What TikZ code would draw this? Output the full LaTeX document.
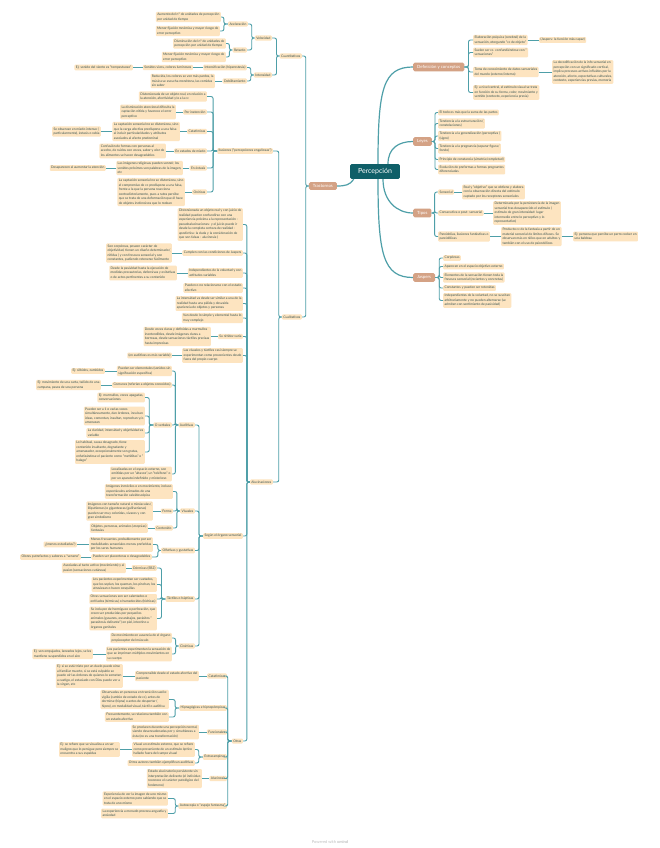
\documentclass[tikz,border=0pt]{standalone}
\usepackage{fontspec}
\setmainfont{Lato}
\definecolor{leaf}{HTML}{FDE4C0}
\definecolor{branch}{HTML}{D4A285}
\definecolor{rootc}{HTML}{0F5F68}
\definecolor{linec}{HTML}{4E9FA8}
\definecolor{txt}{HTML}{34504F}
\tikzset{
 lf/.style={fill=leaf, rounded corners=1pt, inner xsep=1.4pt, inner ysep=1.3pt, font=\fontsize{3.3}{4.5}\selectfont, text=txt, align=left},
 L/.style={lf, anchor=east},
 R/.style={lf, anchor=west},
 br/.style={fill=branch, rounded corners=1.5pt, inner xsep=4pt, inner ysep=2.4pt, font=\fontsize{4.3}{5}\selectfont, text=white},
 rt/.style={fill=rootc, rounded corners=1.5pt, inner xsep=8pt, inner ysep=4.3pt, font=\fontsize{7}{8}\selectfont, text=white},
 conn/.style={draw=linec, line width=0.9pt, rounded corners=2pt},
 mainc/.style={draw=linec, line width=1.2pt},
}
\newcommand\LC[3]{\draw[conn] (#1.west) -- ++(-#3,0) |- (#2.east);}
\newcommand\RC[3]{\draw[conn] (#1.east) -- ++(#3,0) |- (#2.west);}
\newcommand\SL[2]{\draw[conn] (#1.west) -- (#2.east);}
\newcommand\SR[2]{\draw[conn] (#1.east) -- (#2.west);}
\begin{document}
\begin{tikzpicture}[x=1pt,y=-1pt]
\useasboundingbox (0,0) rectangle (659,848);
\fill[white] (0,0) rectangle (659,848);

% ---------- root and main branches
\node[rt] (root) at (375,171.5) {Percepción};
\node[br, anchor=west] (def) at (413,67) {Definición y conceptos};
\node[br, anchor=west] (leyes) at (413,141.5) {Leyes};
\node[br, anchor=west] (tipos) at (413,213) {Tipos};
\node[br, anchor=west] (jasp) at (413,277.5) {Jaspers};
\node[br, anchor=east] (tras) at (337,186) {Trastornos};

\draw[mainc] ([xshift=3]root.north) .. controls +(0,-75) and +(-30,0) .. (def.west);
\draw[mainc] ([xshift=13]root.north) .. controls +(0,-16) and +(-14,0) .. (leyes.west);
\draw[mainc] ([xshift=8]root.south) .. controls +(0,22) and +(-16,0) .. (tipos.west);
\draw[mainc] ([xshift=3]root.south) .. controls +(0,75) and +(-30,0) .. (jasp.west);
\draw[mainc] ([xshift=4]root.south west) .. controls +(-4,6) and +(8,0) .. (tras.east);

% ---------- Definición
\node[R] (elab) at (473,40) {Elaboración psíquica (cerebral) de la\\sensación, otorgando "cc de objeto"};
\node[R] (jasp1) at (539,40) {(Jaspers: la función más capaz)};
\node[R] (suelen) at (473,52.5) {Suelen ser cc. confundiéndose con "\\sensaciones"};
\node[R] (toma) at (473,72) {Toma de conocimiento de datos sensoriales\\del mundo (externo/interno)};
\node[R] (decod) at (552,72) {La decodificación de la info sensorial en\\percepción con un significado cortical,\\implica procesos activos influidos por la\\atención, afecto, expectativas culturales,\\contexto, experiencias previas, memoria};
\node[R] (ejniv) at (473,92.5) {Ej: a nivel central, el estímulo visual se trata\\en función de su forma, color, movimiento y\\sentido (contexto, experiencia previa)};
\RC{def}{elab}{4} \RC{def}{suelen}{4} \RC{def}{toma}{4} \RC{def}{ejniv}{4}
\SR{elab}{jasp1} \SR{toma}{decod}

% ---------- Leyes
\node[R] (l1) at (438,112.5) {El todo es más que la suma de las partes};
\node[R] (l2) at (438,123.5) {Tendencia a la estructuración (\\constelaciones)};
\node[R] (l3) at (438,136) {Tendencia a la generalización (perceptiva )\\(signo)};
\node[R] (l4) at (438,148.5) {Tendencia a la pregnancia (separar figura/\\fondo)};
\node[R] (l5) at (438,159.5) {Principio de constancia (simetría/completud)};
\node[R] (l6) at (438,169.5) {Evolución de preformas a formas pregnantes\\diferenciadas};
\foreach \c in {l1,l2,l3,l4,l5,l6} {\RC{leyes}{\c}{3}}

% ---------- Tipos
\node[R] (sens) at (438,192) {Sensorial};
\node[R] (real) at (462,192) {Real y "objetivo" que se obtiene y elabora\\con la observación directa del estímulo\\captado por los receptores sensoriales};
\node[R] (consec) at (438,213) {Consecutiva o post- sensorial};
\node[R] (determ) at (493,213) {Determinada por la persistencia de la imagen\\sensorial tras desaparecido el estímulo (\\estímulo de gran intensidad: lugar\\intermedio entre lo perceptivo y lo\\representativo)};
\node[R] (pareid) at (438,236.5) {Pareidolias, ilusiones fantásticas o\\pareidólicas};
\node[R] (product) at (501,236.5) {Producto cc de la fantasía a partir de un\\material sensorial de límites difusos. Se\\observan más en niños que en adultos y\\también con el uso de psicodélicos};
\node[R] (ejperro) at (573,236.5) {Ej: persona que percibe un perro cocker en\\una baldosa};
\RC{tipos}{sens}{3} \RC{tipos}{consec}{3} \RC{tipos}{pareid}{3}
\SR{sens}{real} \SR{consec}{determ} \SR{pareid}{product} \SR{product}{ejperro}

% ---------- Jaspers
\node[R] (j1) at (443,258) {Corpóreas};
\node[R] (j2) at (443,266.5) {Aparecen en el espacio objetivo externo};
\node[R] (j3) at (443,277.5) {Elementos de la sensación tienen toda la\\frescura sensorial (recientes y concretas)};
\node[R] (j4) at (443,288) {Constantes y pueden ser retenidas};
\node[R] (j5) at (443,300.5) {Independientes de la voluntad, no se suscitan\\arbitrariamente y no pueden alternarse (se\\admiten con sentimiento de pasividad)};
\foreach \c in {j1,j2,j3,j4,j5} {\RC{jasp}{\c}{4}}

% ---------- Trastornos
\node[L] (cuant) at (302,56) {Cuantitativos};
\node[L] (cualit) at (302,317) {Cualitativos};
\LC{tras}{cuant}{3} \LC{tras}{cualit}{3}

% Cuantitativos
\node[L] (vel) at (272,38) {Velocidad};
\node[L] (inten) at (272,75) {Intensidad};
\node[L] (acel) at (248,24) {Aceleración};
\node[L] (ret) at (247,50) {Retardo};
\node[L] (aum) at (221,17) {Aumento del n° de unidades de percepción\\por unidad de tiempo};
\node[L] (men1) at (220,31) {Menor fijación mnémica y mayor riesgo de\\error perceptivo};
\node[L] (dism) at (226,43.5) {Disminución del n° de unidades de\\percepción por unidad de tiempo};
\node[L] (men2) at (226,57) {Menor fijación mnémica y mayor riesgo de\\error perceptivo};
\node[L] (hiper) at (247,67.5) {Intensificación (hiperestesia)};
\node[L] (sonv) at (193,67.5) {Sonidos vivos, colores luminosos};
\node[L] (ejvi) at (133,67.5) {Ej: sonido del viento es "tempestuoso"};
\node[L] (debil) at (247,81) {Debilitamiento};
\node[L] (reduc) at (215,81) {Reducida, los colores se ven más pardos, la\\música se escucha monótona, las comidas\\sin sabor};
\LC{cuant}{vel}{3} \LC{cuant}{inten}{3}
\LC{vel}{acel}{3} \LC{vel}{ret}{3}
\LC{acel}{aum}{4} \LC{acel}{men1}{4}
\LC{ret}{dism}{3} \LC{ret}{men2}{3}
\LC{inten}{hiper}{3} \LC{inten}{debil}{3}
\SL{hiper}{sonv} \SL{sonv}{ejvi} \SL{debil}{reduc}

% Ilusiones
\node[L] (ilus) at (273,151) {Ilusiones ("percepciones engañosas")};
\node[L] (dist1) at (207,96.5) {Distorsionada de un objeto real, en relación a\\la atención, afectividad y/o a la cc};
\node[L] (inat) at (207,112) {Por inatención};
\node[L] (ladism) at (176,112) {La disminución atencional dificulta la\\captación nítida y favorece el error\\perceptivo};
\node[L] (catat) at (207,131.5) {Catatímicas};
\node[L] (lacapt) at (180,131.5) {La captación sensorial no se distorsiona, sino\\que la carga afectiva predispone a una falsa\\al incluir particularidades y atributos\\asociados al afecto predominal};
\node[L] (seobs) at (101,131.5) {Se observan en miedo intenso (\\particularmente), éxtasis o rabia};
\node[L] (miedo) at (207,151) {En estados de miedo};
\node[L] (confu) at (166,151) {Confusión de formas con personas al\\acecho, de ruidos con voces, sabor y olor de\\los alimentos se hacen desagradables};
\node[L] (extas) at (207,168) {En éxtasis};
\node[L] (imgrel) at (183,168) {Las imágenes religiosas pueden sonreír, los\\sonidos próximos son palabras de la imagen,\\etc};
\node[L] (desap) at (106,168) {Desaparecen al aumentar la atención};
\node[L] (onir) at (207,192) {Oníricas};
\node[L] (lacapt2) at (185,192) {La captación sensorial no se distorsiona, sino\\el compromiso de cc predispone a una falsa,\\frente a la que la persona reacciona\\contradictoriamente, pues a ratos percibe\\que se trata de una deformación que él hace\\de objetos inofensivos que lo rodean};
\foreach \c in {dist1,inat,catat,miedo,extas,onir} {\LC{ilus}{\c}{4}}
\SL{inat}{ladism} \SL{catat}{lacapt} \SL{lacapt}{seobs} \SL{miedo}{confu}
\SL{extas}{imgrel} \SL{imgrel}{desap} \SL{onir}{lacapt2}

% Alucinaciones
\node[L] (aluc) at (273,482) {Alucinaciones};
\LC{cualit}{ilus}{3} \LC{cualit}{aluc}{3}
\node[L] (distal) at (243,224.5) {Distorsionada un objeto real y con juicio de\\realidad pueden confundirse con una\\experiencia próxima a la representación -\\pseudoalucinaciones- y el juicio puede ir\\desde la completa certeza de realidad -\\apodíctica- la duda y la consideración de\\que son falsas - alucinosis-)};
\node[L] (cumplen) at (243,253) {Cumplen con las condiciones de Jaspers};
\node[L] (soncorp) at (172,253) {Son corpóreas, poseen carácter de\\objetividad, tienen un diseño determinado (\\nítidas ) y con frescura sensorial y son\\constantes, pudiendo retenerse fácilmente};
\node[L] (indep) at (243,273) {Independientes de la voluntad y con\\actitudes variables};
\node[L] (desdepas) at (177,273) {Desde la pasividad hasta la ejecución de\\medidas precautorias, defensivas y evitativas\\o de actos pertinentes a su contenido};
\node[L] (pueden) at (243,288) {Pueden o no relacionarse con el estado\\afectivo};
\node[L] (laint) at (243,303.5) {La intensidad va desde ser similar a una de la\\realidad hasta una pálida y desvaída\\apariencia de objetos y personas};
\node[L] (vandesde) at (243,318) {Van desde lo simple y elemental hasta lo\\muy complejo};
\node[L] (nitidez) at (243,336.5) {Su nitidez varía};
\node[L] (desdevoc) at (211,336.5) {Desde voces claras y definidas a murmullos\\inentendibles, desde imágenes claras a\\borrosas, desde sensaciones táctiles precisas\\hasta imprecisas};
\node[L] (lasvis) at (243,355.5) {Las visuales y táctiles casi siempre se\\experimentan como provenientes desde\\fuera del propio cuerpo};
\node[L] (enaud) at (172,355.5) {(en auditivas es más variable)};
\node[L] (segun) at (243,536) {Según el órgano sensorial};
\node[L] (otras) at (243,741) {Otras};
\foreach \c in {distal,cumplen,indep,pueden,laint,vandesde,nitidez,lasvis,segun,otras} {\LC{aluc}{\c}{3}}
\SL{cumplen}{soncorp} \SL{indep}{desdepas} \SL{nitidez}{desdevoc} \SL{lasvis}{enaud}

% Auditivas
\node[L] (audit) at (195,425) {Auditivas};
\node[L] (elem) at (172,371) {Pueden ser elementales (sonidos sin\\significación específica)};
\node[L] (ejsilb) at (105,371) {Ej: silbidos, zumbidos};
\node[L] (comun) at (172,385) {Comunes (referían a objetos conocidos)};
\node[L] (ejmov) at (101,385) {Ej: movimiento de una carta, tañido de una\\campana, pasos de una persona};
\node[L] (overb) at (172,425) {O verbales};
\node[L] (murm) at (145,397.5) {Ej: murmullos, voces apagadas,\\conversaciones};
\node[L] (puedser) at (145,416) {Pueden ser a 1 o varias voces\\simultáneamente, dan órdenes, inculcan\\ideas, comentan, insultan, reprochan y/o\\amenazan};
\node[L] (clarid) at (145,433) {La claridad, intensidad y objetividad es\\variable};
\node[L] (habit) at (145,452) {Lo habitual, causa desagrado, tiene\\contenido insultante, degradante y\\amenazador, excepcionalmente son gratas,\\enfatizándose el paciente como "metiditas" o "\\halago"};
\node[L] (localiz) at (172,474) {Localizadas en el espacio externo, son\\emitidas por un "altavoz", un "teléfono" o\\por un aparato indefinido y misterioso};
\foreach \c in {elem,comun,overb,localiz} {\LC{audit}{\c}{3}}
\foreach \c in {murm,puedser,clarid,habit} {\LC{overb}{\c}{4}}
\SL{elem}{ejsilb} \SL{comun}{ejmov}

% Visuales
\node[L] (visu) at (195,511) {Visuales};
\node[L] (inmov) at (173,491.5) {Imágenes inmóviles o en movimiento, incluso\\espectáculos animados de una\\transformación caleidoscópica};
\node[L] (forma) at (173,511) {Forma};
\node[L] (taman) at (153,511) {Imágenes con tamaño natural o minúsculas (\\liliputienses) o gigantescas (gulliverianas)\\pueden ser muy coloridas, vivaces y con\\gran simbolismo};
\node[L] (conten) at (173,528) {Contenido};
\node[L] (objet) at (148,528) {Objetos, personas, animales (zoopsias)\\fantasías};
\foreach \c in {inmov,forma,conten} {\LC{visu}{\c}{3}}
\SL{forma}{taman} \SL{conten}{objet}

% Olfativas
\node[L] (olfat) at (195,550.5) {Olfativas y gustativas};
\node[L] (menos) at (153,544.5) {Menos frecuentes, probablemente por ser\\modalidades sensoriales menos preferidas\\por los seres humanos};
\node[L] (menoest) at (77,544.5) {¿(menos estudiadas?)};
\node[L] (placen) at (152,557) {Pueden ser placenteras o desagradables};
\node[L] (olores) at (81,557) {Olores putrefactos y sabores a "veneno"};
\LC{olfat}{menos}{3} \LC{olfat}{placen}{3}
\SL{menos}{menoest} \SL{placen}{olores}

% Táctiles
\node[L] (tact) at (195,599) {Táctiles o hápticas};
\node[L] (derm) at (157,568) {Dérmicas (EBZ)};
\node[L] (asoc) at (126,568) {Asociadas al tacto activo (movimiento) y al\\pasivo (sensaciones cutáneas)};
\node[L] (cuet) at (157,584.5) {Los pacientes experimentan ser cuetados,\\que los soplan, los queman, los pinchan, los\\atraviesan o hacen cosquillas};
\node[L] (otrsens) at (157,599) {Otras sensaciones son ser calentados o\\enfriados (térmicas) o humedecidos (hídricas)};
\node[L] (hormig) at (157,618.5) {Se incluyen de hormigueo o perforación, que\\creen ser producidas por pequeños\\animales (gusanos, escarabajos, parásitos "\\parasitosis delirante") en piel, intestino u\\órganos genitales};
\foreach \c in {derm,cuet,otrsens,hormig} {\LC{tact}{\c}{4}}
\SL{derm}{asoc}

% Cinéticas
\node[L] (cinet) at (195,646) {Cinéticas};
\node[L] (demov) at (172,638) {De movimiento en ausencia de el órgano\\propioceptor del músculo};
\node[L] (imprim) at (172,654) {Los pacientes experimentan la sensación de\\que se imprimen múltiples movimientos en\\su cuerpo};
\node[L] (ejemp) at (93,654) {Ej: son empujados, lanzados lejos, se les\\mantiene suspendidos en el aire};
\LC{cinet}{demov}{3} \LC{cinet}{imprim}{3}
\SL{imprim}{ejemp}

\foreach \c in {audit,visu,olfat,tact,cinet} {\LC{segun}{\c}{4}}

% Otras
\node[L] (catat2) at (227,676) {Catatímicas};
\node[L] (compr) at (199,676) {Comprensible desde el estado afectivo del\\paciente};
\node[L] (ejtris) at (123,676) {Ej: si se está triste por un duelo puede oírse\\al familiar muerto, si se está culpable se\\puede oír las órdenes de quienes lo someten\\a castigo, el extasiado con Dios puede ver a\\la virgen, etc};
\node[L] (hipna) at (227,708) {Hipnagógicas e hipnopómpicas};
\node[L] (observ) at (169,699.5) {Observadas en personas en transición sueño-\\vigilia (cambio de estado de cc), antes de\\dormirse (hipna) o antes de despertar (\\hipno), en modalidad visual, táctil o auditiva};
\node[L] (frecu) at (169,717) {Frecuentemente, se relaciona también con\\un estado afectivo};
\node[L] (funci) at (227,732) {Funcionales};
\node[L] (seprod) at (199,732) {Se producen durante una percepción normal,\\siendo desencadenadas por y simultáneas a\\ésta (no es una transformación)};
\node[L] (extrac) at (227,757) {Extracampinas};
\node[L] (visun) at (195,749.5) {Visual un estímulo externo, que se refiere\\como proveniente de un estímulo óptico\\hallado fuera del campo visual};
\node[L] (ejmal) at (120,749.5) {Ej: se refiere que se visualiza a un ser\\maligno que lo persigue pero siempre se\\encuentra a sus espaldas};
\node[L] (otrosaut) at (195,763) {Otros autores también ejemplifican auditivas};
\node[L] (alucinosis) at (227,778.5) {Alucinosis};
\node[L] (estado) at (202,778.5) {Estado alucinatorio persistente sin\\interpretación delirante (el individuo\\reconoce el carácter patológico del\\fenómeno)};
\node[L] (autosc) at (227,806) {Autoscopia o "espejo fantasma"};
\node[L] (experi) at (168,798.5) {Experiencia de ver la imagen de uno mismo\\en el espacio externo pero sabiendo que se\\trata de uno mismo};
\node[L] (laexp) at (168,813.5) {La experiencia a menudo provoca angustia y\\ansiedad};
\foreach \c in {catat2,hipna,funci,extrac,alucinosis,autosc} {\LC{otras}{\c}{4}}
\SL{catat2}{compr} \SL{compr}{ejtris}
\LC{hipna}{observ}{4} \LC{hipna}{frecu}{4}
\SL{funci}{seprod}
\LC{extrac}{visun}{4} \LC{extrac}{otrosaut}{4} \SL{visun}{ejmal}
\SL{alucinosis}{estado}
\LC{autosc}{experi}{3} \LC{autosc}{laexp}{3}

% footer
\node[font=\fontsize{4}{5}\selectfont, text=black!25] (foot) at (330,842) {Powered with \textbf{xmind}};
\end{tikzpicture}
\end{document}
